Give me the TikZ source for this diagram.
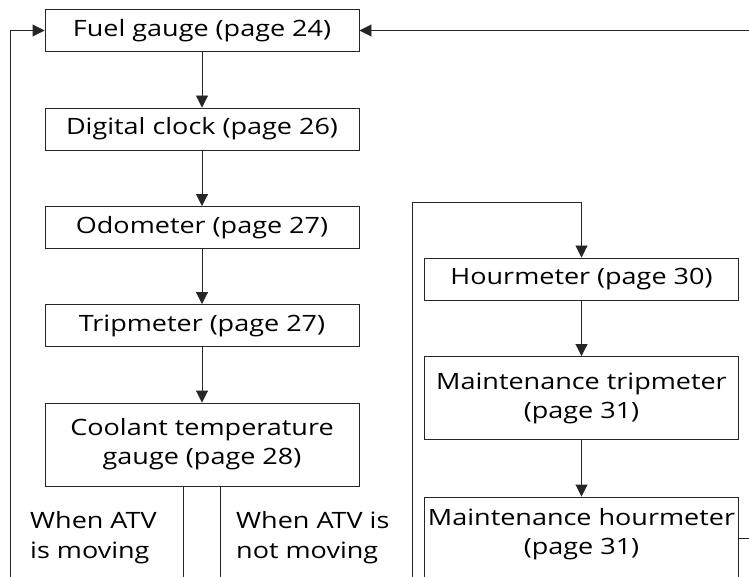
\documentclass[tikz,border=0pt]{standalone}
\usepackage{fontspec}
\setmainfont[FakeStretch=1.2]{Open Sans}
\usetikzlibrary{arrows.meta}

\begin{document}
\begin{tikzpicture}[x=1pt, y=-1pt,
    box/.style={rectangle, draw=black!85, line width=0.9pt, fill=white,
        minimum width=314pt, minimum height=42pt, inner sep=2pt,
        align=center, font=\fontsize{22.5}{29}\selectfont},
    tallbox/.style={box, minimum height=83pt},
    note/.style={align=left, inner sep=0pt, font=\fontsize{22.5}{30}\selectfont},
    edge/.style={draw=black!85, line width=0.9pt,
        -{Triangle[length=12pt, width=12pt]}},
    wire/.style={draw=black!85, line width=0.9pt}
]
    \path[use as bounding box, clip] (0,0) rectangle (749,577);

    % left column
    \node[box] (fuel) at (202,30.5) {Fuel gauge (page 24)};
    \node[box] (clock) at (202,129) {Digital clock (page 26)};
    \node[box] (odo) at (202,227.5) {Odometer (page 27)};
    \node[box] (trip) at (202,325.5) {Tripmeter (page 27)};
    \node[tallbox] (coolant) at (202,444.5) {Coolant temperature\\gauge (page 28)};

    % right column
    \node[box] (hour) at (581.5,279) {Hourmeter (page 30)};
    \node[tallbox] (mtrip) at (581.5,398) {Maintenance tripmeter\\(page 31)};
    \node[tallbox, text depth=14pt] (mhour) at (581.5,538.5) {Maintenance hourmeter\\(page 31)};

    \node[note, anchor=base west] (moving) at (30,558) {When ATV\\is moving};
    \node[note, anchor=base west] (still) at (236,558) {When ATV is\\not moving};

    \coordinate (lbot) at (10,577);
    \coordinate (rtop) at (749,30.5);
    \coordinate (mbot) at (412,577);
    \coordinate (mtop) at (412,202);
    \coordinate (b1) at (183,577);
    \coordinate (b2) at (220,577);
    \coordinate (rexit) at (749,538);

    \draw[edge] (fuel) -- (clock);
    \draw[edge] (clock) -- (odo);
    \draw[edge] (odo) -- (trip);
    \draw[edge] (trip) -- (coolant);
    \draw[edge] (hour) -- (mtrip);
    \draw[edge] (mtrip) -- (mhour);
    \draw[edge] (lbot) |- (fuel.west);
    \draw[edge] (rtop) -- (fuel.east);
    \draw[edge] (mbot) -- (mtop) -| (hour.north);
    \draw[wire] (coolant.south -| b1) -- (b1);
    \draw[wire] (coolant.south -| b2) -- (b2);
    \draw[wire] (mhour.east |- rexit) -- (rexit);
\end{tikzpicture}
\end{document}
